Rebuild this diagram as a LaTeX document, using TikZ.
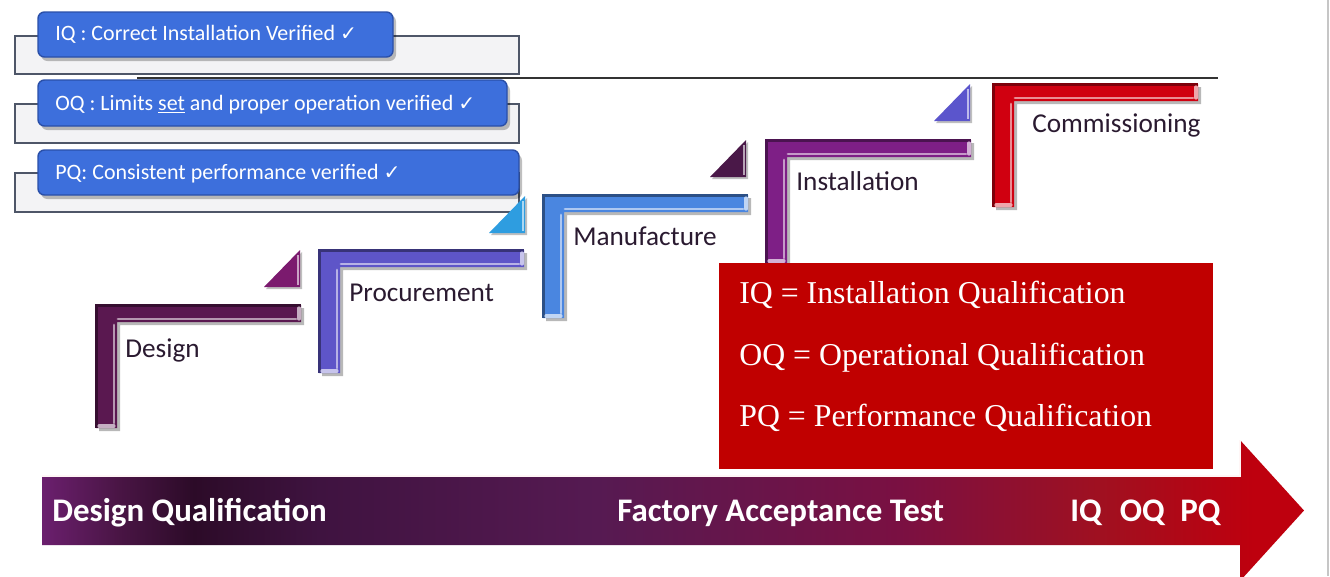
\documentclass[tikz,border=0pt]{standalone}
\usepackage{fontspec}
\setmainfont{Carlito}
\newfontfamily\boxserif{Liberation Serif}
\newfontfamily\symfont{DejaVu Sans}
\definecolor{cDesign}{HTML}{5A1850}
\definecolor{cProc}{HTML}{5E55C8}
\definecolor{cManu}{HTML}{4A86E0}
\definecolor{cInst}{HTML}{7E1F86}
\definecolor{cComm}{HTML}{D00010}
\definecolor{tA}{HTML}{7B1A6E}
\definecolor{tB}{HTML}{2E9DE0}
\definecolor{tC}{HTML}{4A1848}
\definecolor{tD}{HTML}{5B55CC}
\definecolor{boxblue}{HTML}{3D6FDC}
\definecolor{boxedge}{HTML}{2A4FA8}
\definecolor{rectedge}{HTML}{4E5668}
\definecolor{rectfill}{HTML}{F3F3F5}
\definecolor{legendred}{HTML}{C00000}
\definecolor{labeltext}{HTML}{2A1A30}
\definecolor{pA}{HTML}{6B1F6E}
\definecolor{pB}{HTML}{4A1545}
\definecolor{pC}{HTML}{2C0B28}
\definecolor{pD}{HTML}{3F1340}
\definecolor{pE}{HTML}{561A52}
\definecolor{pF}{HTML}{7A1042}
\definecolor{pG}{HTML}{A01020}
\definecolor{pH}{HTML}{BE000E}
\pgfdeclarehorizontalshading{arrowshade}{100bp}{color(0bp)=(pA); color(25bp)=(pA); color(28bp)=(pB); color(31bp)=(pC); color(36bp)=(pD); color(47bp)=(pE); color(59bp)=(pF); color(67bp)=(pG); color(73bp)=(pH); color(100bp)=(pH)}
\tikzset{
  graybox/.style={fill=rectfill, draw=rectedge, line width=0.8pt},
  bluebox/.style={fill=boxblue, draw=boxedge, line width=0.8pt, rounded corners=0.13cm},
  boxshadow/.style={fill=black, opacity=0.25, rounded corners=0.13cm},
  boxtext/.style={anchor=base west, inner sep=0pt, text=white, font=\fontsize{12.5}{15}\selectfont},
  steplabel/.style={anchor=base west, inner sep=0pt, text=labeltext, font=\fontsize{15.5}{18}\selectfont},
  arrowtext/.style={anchor=base west, inner sep=0pt, text=white, font=\bfseries\fontsize{18.75}{22}\selectfont},
  legendtext/.style={anchor=base west, inner sep=0pt, text=white, font=\boxserif\fontsize{18.1}{21}\selectfont},
}
\newcommand{\Lstep}[3]{%
  \fill[black,opacity=0.28] ({#1+3},{#2+3}) -- ({#1+208},{#2+3}) -- ({#1+208},{#2+20}) -- ({#1+24},{#2+20}) -- ({#1+24},{#2+126}) -- ({#1+3},{#2+126}) -- cycle;
  \fill[#3] (#1,#2) -- ({#1+205},#2) -- ({#1+205},{#2+17}) -- ({#1+21},{#2+17}) -- ({#1+21},{#2+123}) -- (#1,{#2+123}) -- cycle;
  \draw[#3!60!black, line width=1.2pt] ({#1+0.5},{#2+123}) -- ({#1+0.5},{#2+0.5}) -- ({#1+205},{#2+0.5});
  \draw[#3!45!white, line width=1.6pt, line cap=round] ({#1+22},{#2+14}) -- ({#1+200},{#2+14});
  \draw[#3!45!white, line width=1.6pt, line cap=round] ({#1+18},{#2+20}) -- ({#1+18},{#2+118});
  \draw[#3!35!white, line width=1.8pt, line cap=round] ({#1+203},{#2+3}) -- ({#1+203},{#2+14});
  \draw[#3!35!white, line width=1.8pt, line cap=round] ({#1+3},{#2+121}) -- ({#1+18},{#2+121});
}
\newcommand{\Tri}[3]{%
  \fill[black,opacity=0.25] ({#1+2},{#2+2}) -- ({#1+2},{#2+39}) -- ({#1-34},{#2+39}) -- cycle;
  \fill[#3] (#1,#2) -- (#1,{#2+37}) -- ({#1-36},{#2+37}) -- cycle;
  \draw[#3!40!white, line width=1.4pt] ({#1-2},{#2+5}) -- ({#1-2},{#2+35});
}
\begin{document}
\begin{tikzpicture}[x=0.02cm, y=-0.02cm]
\useasboundingbox (0,0) rectangle (1330,576);
\fill[white] (0,0) rectangle (1330,576);
% right frame line and divider
\draw[gray!45, line width=0.6pt] (1328,0) -- (1328,576);
\coordinate (divL) at (137,78);
\coordinate (divR) at (1218,78);
\draw[black!80, line width=0.7pt] (divL) -- (divR);
% gray rectangles
\draw[graybox] (15,36) rectangle (519,74);
\draw[graybox] (15,104) rectangle (519,143);
\draw[graybox] (15,173) rectangle (519,212);
% steps
\Lstep{96}{305}{cDesign}
\Tri{300}{250}{tA}
\Lstep{319}{250}{cProc}
\Tri{525}{196}{tB}
\Lstep{543}{195}{cManu}
\Tri{746}{140}{tC}
\Lstep{766}{140}{cInst}
\Tri{970}{84}{tD}
\Lstep{993}{84}{cComm}
% blue boxes
\fill[boxshadow] (41,15) rectangle (396,61);
\draw[bluebox] (38,12) rectangle (393,57);
\fill[boxshadow] (41,84) rectangle (510,130);
\draw[bluebox] (38,80) rectangle (507,126);
\fill[boxshadow] (41,154) rectangle (522,199);
\draw[bluebox] (38,150) rectangle (519,195);
\node[boxtext] (iqtxt) at (55,40) {IQ : Correct Installation Verified {\symfont\fontsize{11.5}{13}\selectfont ✓}};
\node[boxtext] (oqtxt) at (55,110) {OQ : Limits \underline{set} and proper operation verified {\symfont\fontsize{11.5}{13}\selectfont ✓}};
\node[boxtext] (pqtxt) at (55,179) {PQ: Consistent performance verified {\symfont\fontsize{11.5}{13}\selectfont ✓}};
% step labels
\node[steplabel] (design) at (125,357) {Design};
\node[steplabel] (procurement) at (349,301) {Procurement};
\node[steplabel] (manufacture) at (573,245) {Manufacture};
\node[steplabel] (installation) at (796,190) {Installation};
\node[steplabel] (commissioning) at (1032,132) {Commissioning};
% legend box
\fill[legendred] (719,263) rectangle (1213,469);
\node[legendtext] (legIQ) at (739,303) {IQ = Installation Qualification};
\node[legendtext] (legOQ) at (739,365) {OQ = Operational Qualification};
\node[legendtext] (legPQ) at (739,426) {PQ = Performance Qualification};
% big arrow
\shade[shading=arrowshade] (42,476) -- (1240,476) -- (1240,440) -- (1304,510.5) -- (1240,581) -- (1240,545) -- (42,545) -- cycle;
\draw[white!85!pink, line width=0.6pt] (42,476) -- (1240,476) -- (1240,440);
\node[arrowtext] (dq) at (52,521) {Design Qualification};
\node[arrowtext] (fat) at (617,521) {Factory Acceptance Test};
\node[arrowtext] (iqoqpq) at (1070,521) {IQ\hspace{0.55em}OQ\hspace{0.25em} PQ};
\end{tikzpicture}
\end{document}
